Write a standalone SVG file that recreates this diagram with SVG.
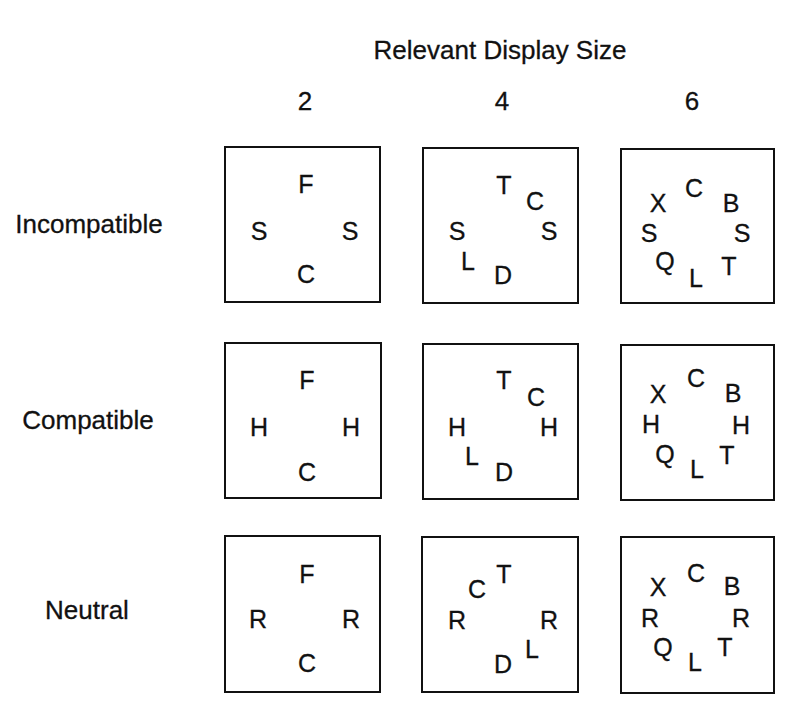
<svg xmlns="http://www.w3.org/2000/svg" width="800" height="710" viewBox="0 0 800 710">
<style>
text{font-family:"Liberation Sans",Arial,sans-serif;fill:#111;stroke:#111;stroke-width:0.3;}
.h{font-size:26px;text-anchor:middle;}
.lab{font-size:26px;text-anchor:middle;}
.l{font-size:25px;text-anchor:middle;}
.box{fill:#fff;stroke:#111;stroke-width:2;}
</style>
<rect width="800" height="710" fill="#fff"/>
<g id="headers">
<text class="h" x="500" y="59">Relevant Display Size</text>
<text class="h" x="305" y="110">2</text>
<text class="h" x="502" y="110">4</text>
<text class="h" x="692" y="110">6</text>
</g>
<g id="row-labels">
<text class="lab" x="89" y="233">Incompatible</text>
<text class="lab" x="88" y="429">Compatible</text>
<text class="lab" x="87" y="619">Neutral</text>
</g>
<g id="connectors"></g>
<g id="incompatible-2">
<rect class="box" x="225" y="147" width="155" height="155"/>
<text class="l" x="306" y="193">F</text>
<text class="l" x="259" y="240">S</text>
<text class="l" x="350" y="240">S</text>
<text class="l" x="306" y="283">C</text>
</g>
<g id="incompatible-4">
<rect class="box" x="423" y="148" width="155" height="155"/>
<text class="l" x="504" y="194">T</text>
<text class="l" x="535" y="210">C</text>
<text class="l" x="457" y="240">S</text>
<text class="l" x="549" y="240">S</text>
<text class="l" x="468" y="270">L</text>
<text class="l" x="503" y="284">D</text>
</g>
<g id="incompatible-6">
<rect class="box" x="621" y="149" width="153" height="154"/>
<text class="l" x="694" y="197">C</text>
<text class="l" x="658" y="212">X</text>
<text class="l" x="731" y="212">B</text>
<text class="l" x="649" y="242">S</text>
<text class="l" x="742" y="242">S</text>
<text class="l" x="665" y="270">Q</text>
<text class="l" x="729" y="275">T</text>
<text class="l" x="696" y="287">L</text>
</g>
<g id="compatible-2">
<rect class="box" x="225" y="343" width="156" height="155"/>
<text class="l" x="307" y="389">F</text>
<text class="l" x="259" y="436">H</text>
<text class="l" x="351" y="436">H</text>
<text class="l" x="307" y="481">C</text>
</g>
<g id="compatible-4">
<rect class="box" x="423" y="344" width="155" height="155"/>
<text class="l" x="504" y="389">T</text>
<text class="l" x="536" y="406">C</text>
<text class="l" x="457" y="436">H</text>
<text class="l" x="549" y="436">H</text>
<text class="l" x="472" y="465">L</text>
<text class="l" x="504" y="481">D</text>
</g>
<g id="compatible-6">
<rect class="box" x="621" y="345" width="153" height="155"/>
<text class="l" x="696" y="387">C</text>
<text class="l" x="658" y="403">X</text>
<text class="l" x="733" y="402">B</text>
<text class="l" x="651" y="433">H</text>
<text class="l" x="741" y="434">H</text>
<text class="l" x="665" y="463">Q</text>
<text class="l" x="727" y="464">T</text>
<text class="l" x="697" y="478">L</text>
</g>
<g id="neutral-2">
<rect class="box" x="225" y="536" width="155" height="156"/>
<text class="l" x="307" y="583">F</text>
<text class="l" x="258" y="628">R</text>
<text class="l" x="351" y="628">R</text>
<text class="l" x="307" y="672">C</text>
</g>
<g id="neutral-4">
<rect class="box" x="422" y="537" width="156" height="155"/>
<text class="l" x="504" y="583">T</text>
<text class="l" x="477" y="598">C</text>
<text class="l" x="457" y="629">R</text>
<text class="l" x="549" y="629">R</text>
<text class="l" x="532" y="658">L</text>
<text class="l" x="503" y="673">D</text>
</g>
<g id="neutral-6">
<rect class="box" x="621" y="537" width="153" height="156"/>
<text class="l" x="696" y="582">C</text>
<text class="l" x="658" y="596">X</text>
<text class="l" x="732" y="595">B</text>
<text class="l" x="650" y="627">R</text>
<text class="l" x="741" y="627">R</text>
<text class="l" x="663" y="656">Q</text>
<text class="l" x="725" y="656">T</text>
<text class="l" x="695" y="671">L</text>
</g>
</svg>
